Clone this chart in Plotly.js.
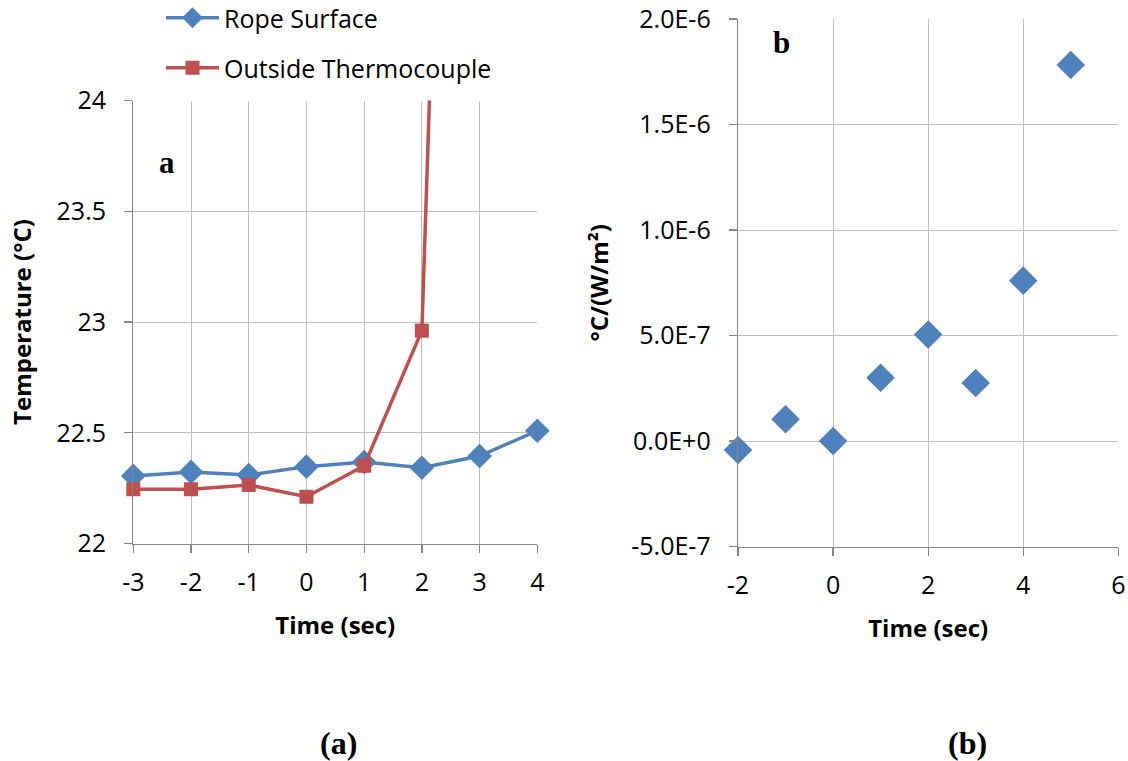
<!DOCTYPE html>
<html>
<head>
<meta charset="utf-8">
<script src="https://cdn.plot.ly/plotly-3.0.1.min.js"></script>
<style>
  html, body { margin: 0; padding: 0; background: #ffffff; }
  #chart { width: 1128px; height: 761px; }
</style>
</head>
<body>
<div id="chart"></div>
<script>
// Panel (a): temperatures around the moment of heating
const timeA = [-3, -2, -1, 0, 1, 2, 3, 4];
const ropeSurface = [22.305, 22.323, 22.309, 22.347, 22.368, 22.342, 22.395, 22.509];
const timeThermo = [-3, -2, -1, 0, 1, 2, 3];
const outsideThermocouple = [22.245, 22.245, 22.264, 22.211, 22.351, 22.961, 30.9];
const xTicksA = [-3, -2, -1, 0, 1, 2, 3, 4];
const xTickLabelsA = ['-3', '-2', '-1', '0', '1', '2', '3', '4'];
const yTicksA = [22, 22.5, 23, 23.5, 24];
const yTickLabelsA = ['22', '22.5', '23', '23.5', '24'];

// Panel (b): temperature rise per unit heat flux
const timeB = [-2, -1, 0, 1, 2, 3, 4, 5];
const riseB = [-4.3e-8, 1.03e-7, 0, 3.0e-7, 5.05e-7, 2.75e-7, 7.6e-7, 1.782e-6];
const xTicksB = [-2, 0, 2, 4, 6];
const xTickLabelsB = ['-2', '0', '2', '4', '6'];
const yTicksB = [-5e-7, 0, 5e-7, 1e-6, 1.5e-6, 2e-6];
const yTickLabelsB = ['-5.0E-7', '0.0E+0', '5.0E-7', '1.0E-6', '1.5E-6', '2.0E-6'];

const W = 1128, H = 761;
const px = v => v / W;          // horizontal pixel -> paper
const py = v => 1 - v / H;      // vertical pixel -> paper

const BLUE = '#4F81BD';
const RED = '#C0504D';
const GRID = '#BFBFBF';
const AXIS = '#868686';
const SANS = '"Open Sans", "DejaVu Sans", sans-serif';
const SERIF = '"Liberation Serif", "DejaVu Serif", serif';

const tickFont = { family: SANS, size: 25, color: '#000000' };
const titleFont = { family: SANS, size: 24, color: '#000000', weight: 'bold' };

function axisBase(extra) {
  return Object.assign({
    showline: true, linecolor: AXIS, linewidth: 1.3,
    showgrid: true, gridcolor: GRID, gridwidth: 1,
    zeroline: false,
    ticks: 'outside', ticklen: 8, tickcolor: AXIS, tickwidth: 1.3,
    tickfont: tickFont,
    tickmode: 'array',
    fixedrange: true
  }, extra);
}

const traces = [
  {
    x: timeA, y: ropeSurface, xaxis: 'x', yaxis: 'y',
    type: 'scatter', mode: 'lines+markers', name: 'Rope Surface',
    line: { color: BLUE, width: 3.5 },
    marker: { symbol: 'diamond', size: 19, color: BLUE },
    cliponaxis: false,
    legend: 'legend'
  },
  {
    x: timeThermo, y: outsideThermocouple, xaxis: 'x', yaxis: 'y',
    type: 'scatter', mode: 'lines+markers', name: 'Outside Thermocouple',
    line: { color: RED, width: 3.5 },
    marker: { symbol: 'square', size: 14, color: RED },
    cliponaxis: false,
    legend: 'legend2'
  },
  {
    x: timeB, y: riseB, xaxis: 'x2', yaxis: 'y2',
    type: 'scatter', mode: 'markers', name: 'b',
    marker: { symbol: 'diamond', size: 22, color: BLUE },
    cliponaxis: false,
    showlegend: false
  }
];

const legendCommon = {
  font: { family: SANS, size: 25, color: '#000000' },
  bgcolor: 'rgba(0,0,0,0)', borderwidth: 0,
  xanchor: 'left', yanchor: 'middle',
  itemwidth: 53, orientation: 'v'
};

const layout = {
  width: W, height: H,
  margin: { l: 0, r: 0, t: 0, b: 0, autoexpand: false },
  paper_bgcolor: '#ffffff', plot_bgcolor: '#ffffff',
  showlegend: true,
  legend: Object.assign({ x: px(161), y: py(18) }, legendCommon),
  legend2: Object.assign({ x: px(161), y: py(68) }, legendCommon),
  xaxis: axisBase({
    domain: [px(133.3), px(537.3)], anchor: 'y',
    range: [-3, 4], tickvals: xTicksA, ticktext: xTickLabelsA,
    ticklabelstandoff: 8,
    title: { text: 'Time (sec)', font: titleFont, standoff: 20 }
  }),
  yaxis: axisBase({
    domain: [py(543.5), py(100.5)], anchor: 'x',
    range: [22, 24], tickvals: yTicksA, ticktext: yTickLabelsA,
    ticklabelstandoff: 13,
    title: { text: 'Temperature (°C)', font: titleFont, standoff: 18 }
  }),
  xaxis2: axisBase({
    domain: [px(738), px(1118.3)], anchor: 'y2',
    range: [-2, 6], tickvals: xTicksB, ticktext: xTickLabelsB,
    ticklabelstandoff: 8,
    title: { text: 'Time (sec)', font: titleFont, standoff: 20 }
  }),
  yaxis2: axisBase({
    domain: [py(546.5), py(19)], anchor: 'x2',
    range: [-5e-7, 2e-6], tickvals: yTicksB, ticktext: yTickLabelsB,
    ticklabelstandoff: 13,
    title: { text: '°C/(W/m²)', font: titleFont, standoff: 16 }
  }),
  shapes: [
    // white box behind the panel letter
    { type: 'rect', xref: 'paper', yref: 'paper', layer: 'above',
      x0: px(751), x1: px(799), y0: py(16), y1: py(68),
      fillcolor: '#ffffff', line: { width: 0 } }
  ],
  annotations: [
    { xref: 'paper', yref: 'paper', x: px(167), y: py(162), text: 'a',
      showarrow: false, xanchor: 'center', yanchor: 'middle',
      font: { family: SERIF, size: 31, color: '#000000', weight: 'bold' } },
    { xref: 'paper', yref: 'paper', x: px(781), y: py(43), text: 'b',
      showarrow: false, xanchor: 'center', yanchor: 'middle',
      font: { family: SERIF, size: 31, color: '#000000', weight: 'bold' } },
    { xref: 'paper', yref: 'paper', x: px(338), y: py(743), text: '(a)',
      showarrow: false, xanchor: 'center', yanchor: 'middle',
      font: { family: SERIF, size: 32, color: '#000000', weight: 'bold' } },
    { xref: 'paper', yref: 'paper', x: px(967), y: py(743), text: '(b)',
      showarrow: false, xanchor: 'center', yanchor: 'middle',
      font: { family: SERIF, size: 32, color: '#000000', weight: 'bold' } }
  ]
};

Plotly.newPlot('chart', traces, layout, { displayModeBar: false, staticPlot: true });
</script>
</body>
</html>
